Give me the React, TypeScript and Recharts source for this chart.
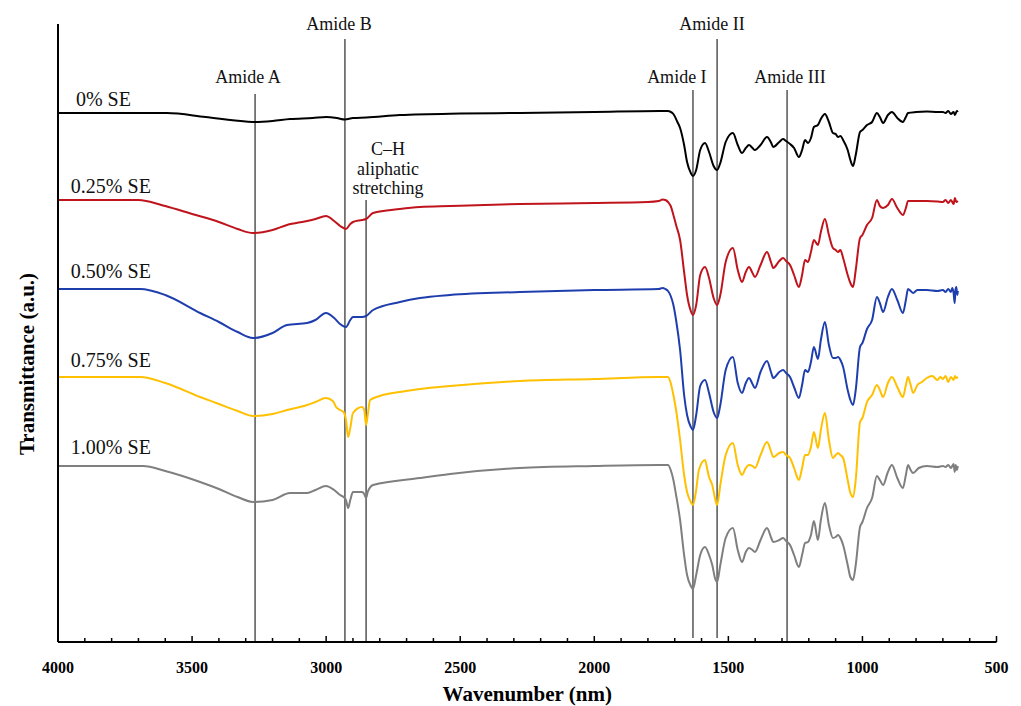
import React from 'react';
import { LineChart, Line, XAxis, YAxis, ReferenceLine, ReferenceDot } from 'recharts';

const FONT = '"Liberation Serif", "Times New Roman", serif';

// FTIR spectra: [wavenumber (cm-1), transmittance (a.u., offset stack)]
const se000: [number, number][] = [[4000,529],[3700,529],[3594,529],[3450,525],[3300,520.5],[3265,520],[3200,521],[3135,523],[3050,524],[3000,525],[2960,524],[2930,522.5],[2900,524],[2850,524.5],[2725,527],[2500,528.5],[2277,529],[2000,530],[1755,531],[1725,531],[1718,530.5],[1705,528],[1690,520],[1680,514],[1665,497],[1654,480],[1640,469],[1632,466],[1620,472],[1605,492],[1587,499],[1572,490],[1555,476],[1542,472],[1530,479],[1510,500],[1483,509],[1465,497],[1449,489],[1435,494],[1423,497],[1410,494],[1401,492],[1380,497],[1356,505],[1340,499],[1333,495],[1310,500],[1296,503],[1285,501],[1270,498],[1255,494],[1237,485],[1225,492],[1214,502],[1203,499],[1192,504],[1181,515],[1166,517],[1155,523],[1140,528],[1125,520],[1110,509],[1100,508],[1091,505],[1082,506],[1072,502],[1055,492],[1045,482],[1035,476],[1025,487],[1009,510],[1000,512],[983,517],[964,520],[946,529],[935,525],[923,519],[905,527],[890,530],[870,524],[849,520],[838,525],[830,529],[800,530],[760,530.5],[720,530],[700,530],[690,529],[680,531],[670,528],[660,530],[655,527],[648,531],[644,530]];

const se025: [number, number][] = [[4000,442],[3700,442],[3683,441.5],[3600,436],[3500,428],[3400,420],[3330,413],[3273,409],[3200,412],[3146,417],[3071,421],[3040,423],[3001,426],[2970,421],[2948,416],[2926,413],[2910,418],[2900,420],[2866,422],[2851,423],[2825,429],[2725,433],[2650,435],[2538,436],[2277,438],[2000,439],[1800,440],[1760,441],[1745,442.5],[1735,442],[1725,440],[1715,436],[1705,427],[1695,417],[1680,402],[1665,370],[1654,347],[1640,331],[1632,327],[1620,337],[1605,367],[1587,375],[1572,364],[1555,344],[1542,337],[1530,347],[1510,380],[1483,394],[1465,372],[1449,360],[1435,370],[1423,375],[1410,369],[1401,365],[1380,377],[1356,390],[1340,379],[1333,374],[1310,381],[1296,384],[1285,381],[1270,377],[1255,367],[1237,355],[1225,367],[1214,382],[1203,380],[1192,390],[1181,402],[1166,397],[1155,410],[1140,423],[1125,407],[1110,394],[1100,392],[1091,390],[1082,392],[1072,384],[1055,367],[1045,359],[1035,355],[1025,372],[1009,404],[1000,407],[983,417],[964,424],[946,442],[935,436],[923,434],[905,437],[890,443],[870,434],[849,427],[838,434],[830,441],[800,441],[760,441],[720,440.5],[700,440],[690,442],[680,439],[670,442],[660,438],[655,444],[650,440],[644,441]];

const se050: [number, number][] = [[4000,353],[3694,353],[3600,347],[3470,329],[3400,320],[3330,310],[3273,304],[3200,309],[3146,317],[3071,319],[3040,322],[3001,329],[2970,324],[2948,318],[2926,315],[2910,322],[2900,325],[2866,325],[2851,326],[2825,332],[2725,340],[2650,344],[2538,347],[2277,350],[2000,352],[1760,353],[1745,354],[1735,353],[1725,351],[1715,346],[1705,337],[1695,322],[1680,292],[1665,247],[1654,227],[1640,215],[1632,212],[1620,227],[1605,256],[1587,262],[1572,249],[1555,230],[1542,224],[1530,237],[1510,272],[1483,285],[1465,259],[1449,249],[1435,259],[1423,264],[1410,258],[1401,254],[1380,270],[1356,281],[1340,269],[1333,264],[1310,270],[1296,272],[1285,269],[1270,265],[1255,255],[1237,244],[1225,257],[1214,272],[1203,270],[1192,280],[1181,295],[1166,283],[1155,302],[1140,320],[1125,297],[1110,284],[1100,284],[1091,285],[1082,282],[1072,275],[1055,252],[1045,242],[1035,237],[1025,252],[1009,295],[1000,299],[983,313],[964,322],[946,345],[935,339],[923,330],[905,345],[890,353],[870,342],[849,329],[838,342],[830,353],[820,351],[811,349],[795,352],[760,352],[720,351],[700,352],[690,350],[680,353],[670,350],[665,354],[660,349],[656,339],[653,352],[650,355],[646,347],[644,351]];

const se075: [number, number][] = [[4000,265],[3694,265],[3600,259],[3470,245],[3400,238],[3330,231],[3273,226],[3200,228],[3146,232],[3071,237],[3040,240],[3001,244],[2975,241],[2963,235],[2948,232],[2935,230],[2926,222],[2918,205],[2910,214],[2900,229],[2866,235],[2858,232],[2851,217],[2845,227],[2836,242],[2800,246],[2725,250],[2650,253],[2538,256],[2277,261],[2000,263],[1760,265],[1725,265],[1715,259],[1705,247],[1695,232],[1680,202],[1665,167],[1654,150],[1640,140],[1632,137],[1620,152],[1610,172],[1587,182],[1578,172],[1572,165],[1560,157],[1550,144],[1542,137],[1530,157],[1510,187],[1483,199],[1465,177],[1449,167],[1435,174],[1423,177],[1410,176],[1401,174],[1380,187],[1356,200],[1340,190],[1333,185],[1310,189],[1296,190],[1285,187],[1270,184],[1255,174],[1237,162],[1225,174],[1214,187],[1203,187],[1192,195],[1181,210],[1166,194],[1155,212],[1140,229],[1125,202],[1110,184],[1100,187],[1091,189],[1082,187],[1072,184],[1055,162],[1045,149],[1035,145],[1025,162],[1009,220],[1000,224],[983,240],[964,247],[946,257],[935,252],[923,245],[905,259],[890,265],[870,255],[849,245],[838,257],[830,265],[820,257],[811,249],[795,257],[778,260],[760,264],[740,266],[720,262],[710,265],[700,263],[690,266],[680,260],[670,265],[660,262],[655,266],[650,264],[644,265]];

const se100: [number, number][] = [[4000,176],[3683,176],[3600,171],[3470,160],[3400,153],[3330,145],[3273,140],[3200,142],[3135,149],[3071,149],[3040,152],[3001,156],[2970,152],[2948,147],[2935,145],[2926,142],[2918,134],[2910,142],[2900,150],[2866,150],[2858,148],[2851,144],[2845,150],[2825,157],[2650,164],[2538,168],[2277,174],[2000,176],[1760,177],[1725,177],[1715,172],[1705,162],[1695,147],[1680,122],[1665,87],[1654,67],[1640,56],[1632,53],[1620,67],[1605,87],[1587,95],[1572,87],[1560,77],[1550,64],[1542,60],[1530,77],[1510,104],[1483,114],[1465,92],[1449,80],[1435,90],[1423,94],[1410,92],[1401,90],[1380,102],[1356,114],[1340,104],[1333,100],[1310,102],[1296,104],[1285,101],[1270,97],[1255,87],[1237,75],[1225,87],[1214,99],[1203,100],[1192,107],[1181,121],[1166,102],[1155,122],[1140,139],[1125,117],[1110,104],[1100,105],[1091,107],[1082,104],[1072,97],[1055,77],[1045,65],[1035,62],[1025,77],[1009,115],[1000,120],[983,134],[964,144],[946,166],[935,162],[923,157],[905,170],[890,177],[870,164],[849,154],[838,167],[830,177],[820,172],[811,169],[790,174],[760,176],[720,175],[700,176],[690,175],[680,177],[670,174],[660,178],[656,170],[652,177],[648,172],[644,176]];

const seriesNames = ['0% SE', '0.25% SE', '0.50% SE', '0.75% SE', '1.00% SE'];
const seriesData = [se000, se025, se050, se075, se100];
const seriesColors = ['#000000', '#C0141C', '#1F3EAE', '#FFC000', '#7F7F7F'];
const seriesLabelWn = [3933, 3952, 3952, 3952, 3952];
const seriesLabelT = [536, 449, 364, 275, 188];

// vertical band markers
const bandWn = [3265, 2930, 2851, 1632, 1542, 1281];
const bandTop = [548, 603, 442, 552, 603, 552];
const bandBottom = [0, 0, 0, 4, 4, 0];

const annotationText = ['Amide A', 'Amide B', 'C–H', 'aliphatic', 'stretching', 'Amide I', 'Amide II', 'Amide III'];
const annotationWn = [3291, 2952, 2769, 2769, 2769, 1692, 1561, 1270];
const annotationT = [559, 612, 487, 467, 448, 559, 612, 559];

const xTicks: number[] = [];
for (let v = 500; v <= 4000; v += 100) xTicks.push(v);

const XTick = (props: any) => {
  const { x, y, payload } = props;
  const major = payload.value % 500 === 0;
  return (
    <g>
      <line x1={x} x2={x} y1={y} y2={y - (major ? 6 : 4)} stroke="#000" strokeWidth={1.5} />
      {major && (
        <text x={x} y={y + 31} textAnchor="middle" fontFamily={FONT} fontWeight="bold" fontSize={16} fill="#000">
          {payload.value}
        </text>
      )}
    </g>
  );
};

const makeText = (text: string, size: number, anchor: 'start' | 'middle') => (p: any) => {
  const vb = p.viewBox || {};
  const x = (vb.x ?? 0) + (vb.width ?? 0) / 2;
  const y = (vb.y ?? 0) + (vb.height ?? 0) / 2;
  return (
    <text x={x} y={y} textAnchor={anchor} fontFamily={FONT} fontSize={size} fill="#111">
      {text}
    </text>
  );
};

export default function App() {
  return (
    <div style={{ position: 'absolute', left: 0, top: 0, width: 1021, height: 706, background: '#fff' }}>
      <LineChart width={1021} height={706} margin={{ top: 24, right: 24.5, bottom: 0, left: 0 }}>
        <XAxis
          dataKey="wn"
          type="number"
          domain={[500, 4000]}
          reversed
          ticks={xTicks}
          interval={0}
          tick={<XTick />}
          tickLine={false}
          tickSize={0}
          tickMargin={0}
          height={64}
          axisLine={{ stroke: '#000', strokeWidth: 2 }}
          allowDataOverflow
          label={{
            content: (p: any) => {
              const vb = p.viewBox || {};
              return (
                <text x={vb.x + vb.width / 2} y={vb.y + 59} textAnchor="middle" fontFamily={FONT} fontWeight="bold" fontSize={21} fill="#000">
                  Wavenumber (nm)
                </text>
              );
            },
          }}
        />
        <YAxis
          type="number"
          domain={[0, 618]}
          width={58}
          tick={false}
          tickLine={false}
          axisLine={{ stroke: '#000', strokeWidth: 2 }}
          allowDataOverflow
          label={{
            content: (p: any) => {
              const vb = p.viewBox || {};
              const cx = vb.x + vb.width - 24;
              const cy = vb.y + 340;
              return (
                <text x={cx} y={cy} transform={`rotate(-90, ${cx}, ${cy})`} textAnchor="middle" fontFamily={FONT} fontWeight="bold" fontSize={21} fill="#000">
                  Transmittance (a.u.)
                </text>
              );
            },
          }}
        />
        {bandWn.map((w, i) => (
          <ReferenceLine
            key={'band' + i}
            segment={[{ x: w, y: bandBottom[i] }, { x: w, y: bandTop[i] }]}
            stroke="#555"
            strokeWidth={1.5}
            ifOverflow="visible"
          />
        ))}
        {seriesData.map((d, i) => (
          <Line
            key={seriesNames[i]}
            data={d.map(([wn, t]) => ({ wn, t }))}
            dataKey="t"
            name={seriesNames[i]}
            type="monotone"
            stroke={seriesColors[i]}
            strokeWidth={2}
            dot={false}
            activeDot={false}
            isAnimationActive={false}
          />
        ))}
        {seriesNames.map((n, i) => (
          <ReferenceDot
            key={'sl' + i}
            x={seriesLabelWn[i]}
            y={seriesLabelT[i]}
            r={0}
            fill="none"
            stroke="none"
            ifOverflow="visible"
            label={makeText(n, 20, 'start')}
          />
        ))}
        {annotationText.map((t, i) => (
          <ReferenceDot
            key={'an' + i}
            x={annotationWn[i]}
            y={annotationT[i]}
            r={0}
            fill="none"
            stroke="none"
            ifOverflow="visible"
            label={makeText(t, 18, 'middle')}
          />
        ))}
      </LineChart>
    </div>
  );
}
